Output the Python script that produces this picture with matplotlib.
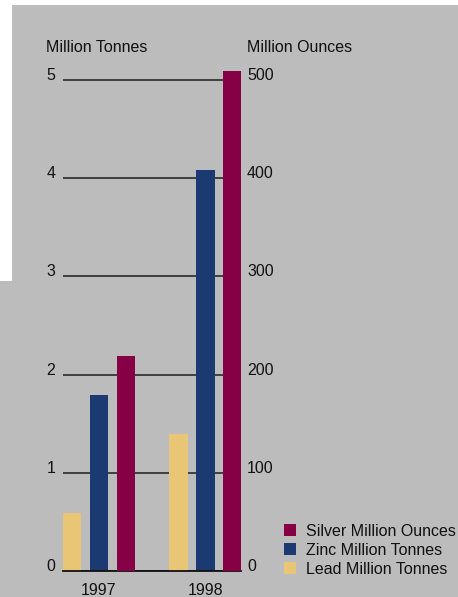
import matplotlib
matplotlib.use("Agg")
import matplotlib.pyplot as plt
from matplotlib.patches import Rectangle
import numpy as np

# datos
years = ["1997", "1998"]
lead = [0.59, 1.40]      # millones de toneladas
zinc = [1.79, 4.08]      # millones de toneladas
silver = [219, 509]      # millones de onzas
left_ticks = [0, 1, 2, 3, 4, 5]
right_ticks = [0, 100, 200, 300, 400, 500]

c_lead = "#e8c676"
c_zinc = "#1c3a72"
c_silver = "#860045"
c_bg = "#bcbcbc"

plt.rcParams["font.family"] = ["Liberation Sans", "DejaVu Sans"]
fs = 11.5

W, H = 458, 597
fig = plt.figure(figsize=(W / 100, H / 100), dpi=100, facecolor="white")

# fondo gris (con la esquina blanca arriba a la izquierda)
fig.add_artist(Rectangle((12 / W, 0), 1 - 12 / W, (H - 5) / H, transform=fig.transFigure,
                         facecolor=c_bg, edgecolor="none", zorder=0))
fig.add_artist(Rectangle((0, 0), 1, (H - 281) / H, transform=fig.transFigure,
                         facecolor=c_bg, edgecolor="none", zorder=0))

# ejes en pixeles
x0, x1 = 63, 241
y_zero = 571.3
unit = 98.3
ymax = 5.2
ax = fig.add_axes([x0 / W, (H - y_zero) / H, (x1 - x0) / W, ymax * unit / H])
ax.set_facecolor("none")
ax2 = ax.twinx()
ax2.set_facecolor("none")

x = np.arange(len(years))
step = 27 / 106.5
width = 18.5 / 106.5
ax.bar(x - step, lead, width, color=c_lead, zorder=3, label="Lead Million Tonnes")
ax.bar(x, zinc, width, color=c_zinc, zorder=3, label="Zinc Million Tonnes")
ax2.bar(x + step, silver, width, color=c_silver, zorder=3, label="Silver Million Ounces")

ax.set_xlim((63 - 99) / 106.5, (241 - 99) / 106.5)
ax.set_ylim(0, ymax)
ax2.set_ylim(0, ymax * 100)

ax.set_yticks(left_ticks)
ax2.set_yticks(right_ticks)
ax.set_xticks(x)
ax.set_xticklabels(years)

for a in (ax, ax2):
    for s in a.spines.values():
        s.set_visible(False)
ax.spines["bottom"].set_visible(True)
ax.spines["bottom"].set_color("#111111")
ax.spines["bottom"].set_linewidth(1.3)
ax.spines["bottom"].set_zorder(5)

ax.yaxis.grid(True, color="#1e1e1e", linewidth=1.1, zorder=1)
ax.set_axisbelow(True)
ax.tick_params(axis="y", length=0, pad=5.6, labelsize=fs, labelcolor="#111111")
ax2.tick_params(axis="y", length=0, pad=4.3, labelsize=fs, labelcolor="#111111")
ax.tick_params(axis="x", length=0, pad=8.5, labelsize=fs, labelcolor="#111111")
for lbl in ax.get_yticklabels() + ax2.get_yticklabels():
    lbl.set_verticalalignment("baseline")

fig.text(46 / W, 1 - 47 / H, "Million Tonnes", fontsize=fs, color="#111111", va="center", ha="left")
fig.text(247 / W, 1 - 47 / H, "Million Ounces", fontsize=fs, color="#111111", va="center", ha="left")

# leyenda
h1, l1 = ax.get_legend_handles_labels()
h2, l2 = ax2.get_legend_handles_labels()
handles = [h2[0], h1[1], h1[0]]
labels = [l2[0], l1[1], l1[0]]
fig.legend(handles, labels, loc="upper left", bbox_to_anchor=(284 / W, 1 - 524 / H),
           frameon=False, fontsize=fs, handlelength=0.78, handleheight=0.78,
           handletextpad=0.62, labelspacing=0.24, borderpad=0, borderaxespad=0,
           labelcolor="#111111")

fig.savefig("out.png", dpi=100, facecolor=fig.get_facecolor())
